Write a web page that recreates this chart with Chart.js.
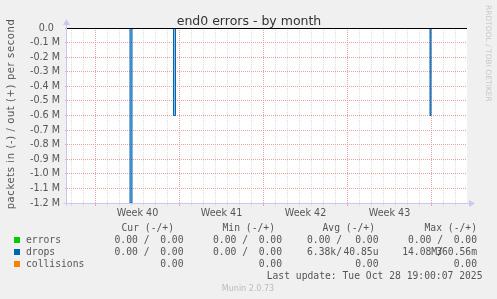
<!DOCTYPE html>
<html>
<head>
<meta charset="utf-8">
<script src="https://cdn.jsdelivr.net/npm/chart.js@4/dist/chart.umd.min.js"></script>
<style>
  html, body { margin: 0; padding: 0; background: #f0f0f0; }
  canvas { display: block; }
</style>
</head>
<body>
<canvas id="chart" width="497" height="299"></canvas>
<script>
/* end0 errors - by month (munin style) */

// ── Data: x = hours from left edge of the graph (~2h per pixel) ──
const dropsHours      = [0, 126, 130, 213, 217, 726, 728, 800];
const dropsIn         = [0, -1.2e6, 0, -0.6e6, 0, -0.6e6, 0, 0];
const errorsHours     = [0, 800];
const errorsIn        = [0, 0];
const collisionsHours = [0, 800];
const collisionsVal   = [0, 0];

const weekLabels     = ['Week 40', 'Week 41', 'Week 42', 'Week 43'];
const weekStartHours = [57, 225, 393, 561, 729];
const yTickValues    = [0, -1e5, -2e5, -3e5, -4e5, -5e5, -6e5, -7e5, -8e5, -9e5, -1e6, -1.1e6, -1.2e6];
const yTickLabels    = ['0.0', '-0.1 M', '-0.2 M', '-0.3 M', '-0.4 M', '-0.5 M', '-0.6 M',
                        '-0.7 M', '-0.8 M', '-0.9 M', '-1.0 M', '-1.1 M', '-1.2 M'];

// ── Legend table ──
const seriesNames  = ['errors', 'drops', 'collisions'];
const seriesColors = ['#00cc00', '#0066b3', '#ff8000'];
const statHeaders  = ['Cur (-/+)', 'Min (-/+)', 'Avg (-/+)', 'Max (-/+)'];
const errorsStats     = [['0.00 /', '0.00'], ['0.00 /', '0.00'], ['0.00 /', '0.00'], ['0.00 /', '0.00']];
const dropsStats      = [['0.00 /', '0.00'], ['0.00 /', '0.00'], ['6.38k/', '40.85u'], ['14.08M/', '360.56m']];
const collisionsStats = [['', '0.00'], ['', '0.00'], ['', '0.00'], ['', '0.00']];
const lastUpdate = 'Last update: Tue Oct 28 19:00:07 2025';

const MAJOR = 'rgb(240,160,160)';
const MINOR = 'rgb(220,220,220)';
const AXIS  = 'rgb(200,200,240)';
const TXT   = '#555';
const MONO  = '9.7px "DejaVu Sans Mono", monospace';

const pts = (xs, ys) => xs.map((x, i) => ({ x, y: ys[i] }));

// daily minor grid lines, weekly major ones
const dayHours = [];
for (let h = weekStartHours[0] % 24; h < 800; h += 24) dayHours.push(h);

const muninPlugin = {
  id: 'munin',
  beforeDraw(chart) {
    const { ctx, chartArea: a } = chart;
    ctx.save();
    ctx.fillStyle = '#fff';
    ctx.fillRect(a.left, a.top, a.right - a.left, a.bottom - a.top);
    ctx.restore();
  },
  afterDatasetsDraw(chart) {
    const { ctx, chartArea: a, scales } = chart;
    const y0 = Math.round(scales.y.getPixelForValue(0)) + 0.5;
    ctx.save();
    ctx.strokeStyle = '#000';
    ctx.lineWidth = 1;
    ctx.beginPath();
    ctx.moveTo(a.left, y0);
    ctx.lineTo(a.right, y0);
    ctx.stroke();
    ctx.restore();
  },
  afterDraw(chart) {
    const { ctx, chartArea: a } = chart;
    ctx.save();

    // ── axes with arrows ──
    const ax = a.left - 0.5, ay = a.bottom + 0.5;
    ctx.strokeStyle = AXIS;
    ctx.fillStyle = AXIS;
    ctx.beginPath();
    ctx.moveTo(ax, ay + 2); ctx.lineTo(ax, a.top - 4);
    ctx.moveTo(ax - 3, ay); ctx.lineTo(a.right + 3, ay);
    ctx.stroke();
    ctx.beginPath();
    ctx.moveTo(ax, a.top - 9); ctx.lineTo(ax - 3.5, a.top - 3); ctx.lineTo(ax + 3.5, a.top - 3);
    ctx.closePath(); ctx.fill();
    ctx.beginPath();
    ctx.moveTo(a.right + 8, ay); ctx.lineTo(a.right + 2, ay - 3.5); ctx.lineTo(a.right + 2, ay + 3.5);
    ctx.closePath(); ctx.fill();

    // ── title ──
    ctx.fillStyle = '#333';
    ctx.font = '12.5px "DejaVu Sans", sans-serif';
    ctx.textAlign = 'center';
    ctx.textBaseline = 'alphabetic';
    ctx.fillText('end0 errors - by month', 249, 25);

    // ── y axis title ──
    ctx.save();
    ctx.fillStyle = TXT;
    ctx.font = '10px "DejaVu Sans", sans-serif';
    ctx.letterSpacing = '0.6px';
    ctx.translate(13.6, 114);
    ctx.rotate(-Math.PI / 2);
    ctx.fillText('packets in (-) / out (+) per second', 0, 0);
    ctx.restore();

    // ── rrdtool credit ──
    ctx.save();
    ctx.fillStyle = '#c8c8c8';
    ctx.font = '7.5px "DejaVu Sans", sans-serif';
    ctx.textAlign = 'left';
    ctx.translate(485.5, 5);
    ctx.rotate(Math.PI / 2);
    ctx.fillText('RRDTOOL / TOBI OETIKER', 0, 0);
    ctx.restore();

    // ── legend ──
    const headEnd  = [174, 275, 375, 477];
    const slashEnd = [149.5, 248, 342, 443];
    const colEnd   = [183.5, 282, 378.5, 477];
    ctx.font = MONO;
    ctx.fillStyle = TXT;
    ctx.textAlign = 'right';
    statHeaders.forEach((h, i) => ctx.fillText(h, headEnd[i], 230.5));

    const rows = [errorsStats, dropsStats, collisionsStats];
    rows.forEach((stats, r) => {
      const by = 243 + r * 12;
      ctx.fillStyle = seriesColors[r];
      ctx.fillRect(14, by - 6, 6, 6);
      ctx.fillStyle = TXT;
      ctx.textAlign = 'left';
      ctx.fillText(seriesNames[r], 26, by);
      ctx.textAlign = 'right';
      stats.forEach(([inV, outV], c) => {
        if (inV) ctx.fillText(inV, slashEnd[c], by);
        ctx.fillText(outV, colEnd[c], by);
      });
    });
    ctx.fillText(lastUpdate, 482.5, 279);

    ctx.fillStyle = '#bbb';
    ctx.font = '8px "DejaVu Sans", sans-serif';
    ctx.textAlign = 'center';
    ctx.fillText('Munin 2.0.73', 248, 291);
    ctx.restore();
  }
};

new Chart(document.getElementById('chart'), {
  type: 'line',
  data: {
    datasets: [
      { label: 'drops', data: pts(dropsHours, dropsIn), stepped: true,
        borderColor: '#0066b3', borderWidth: 1, backgroundColor: 'rgba(0,102,179,0.45)',
        fill: 'origin', pointRadius: 0 },
      { label: 'errors', data: pts(errorsHours, errorsIn),
        borderColor: '#00cc00', borderWidth: 1, pointRadius: 0 },
      { label: 'collisions', data: pts(collisionsHours, collisionsVal),
        borderColor: '#ff8000', borderWidth: 1, pointRadius: 0 }
    ]
  },
  options: {
    responsive: false,
    animation: false,
    events: [],
    layout: { padding: { left: 0, top: 28, right: 30, bottom: 0 } },
    plugins: { legend: { display: false }, tooltip: { enabled: false }, title: { display: false } },
    scales: {
      x: {
        type: 'linear', position: 'bottom', min: 0, max: 800,
        afterBuildTicks: s => { s.ticks = dayHours.map(v => ({ value: v })); },
        afterFit: s => { s.height = 0; },
        ticks: { display: false },
        border: { display: false, dash: [1, 1] },
        grid: {
          color: c => weekStartHours.includes(c.tick.value) ? MAJOR : MINOR,
          tickColor: c => weekStartHours.includes(c.tick.value) ? MAJOR : MINOR,
          tickLength: 3, lineWidth: 1
        }
      },
      x2: {
        type: 'linear', position: 'bottom', min: 0, max: 800,
        afterBuildTicks: s => {
          s.ticks = weekLabels.map((_, i) => ({ value: (weekStartHours[i] + weekStartHours[i + 1]) / 2 }));
        },
        afterFit: s => { s.height = 96; },
        ticks: {
          padding: 5, maxRotation: 0, autoSkip: false, color: TXT,
          font: { family: 'DejaVu Sans', size: 9.6 },
          callback: (v, i) => weekLabels[i]
        },
        border: { display: false },
        grid: { display: false, drawTicks: false }
      },
      y: {
        type: 'linear', min: -1.2e6, max: 0,
        afterBuildTicks: s => { s.ticks = yTickValues.map(v => ({ value: v })); },
        afterFit: s => { s.width = 67; },
        ticks: {
          padding: 5, color: TXT,
          font: { family: 'DejaVu Sans', size: 9.6 },
          callback: v => {
            const lbl = yTickLabels[yTickValues.indexOf(v)];
            return lbl.endsWith('M') ? lbl : lbl + '  ';
          }
        },
        border: { display: false, dash: [1, 1] },
        grid: { color: MAJOR, tickColor: MAJOR, tickLength: 2, lineWidth: 1 }
      }
    }
  },
  plugins: [muninPlugin]
});
</script>
</body>
</html>
